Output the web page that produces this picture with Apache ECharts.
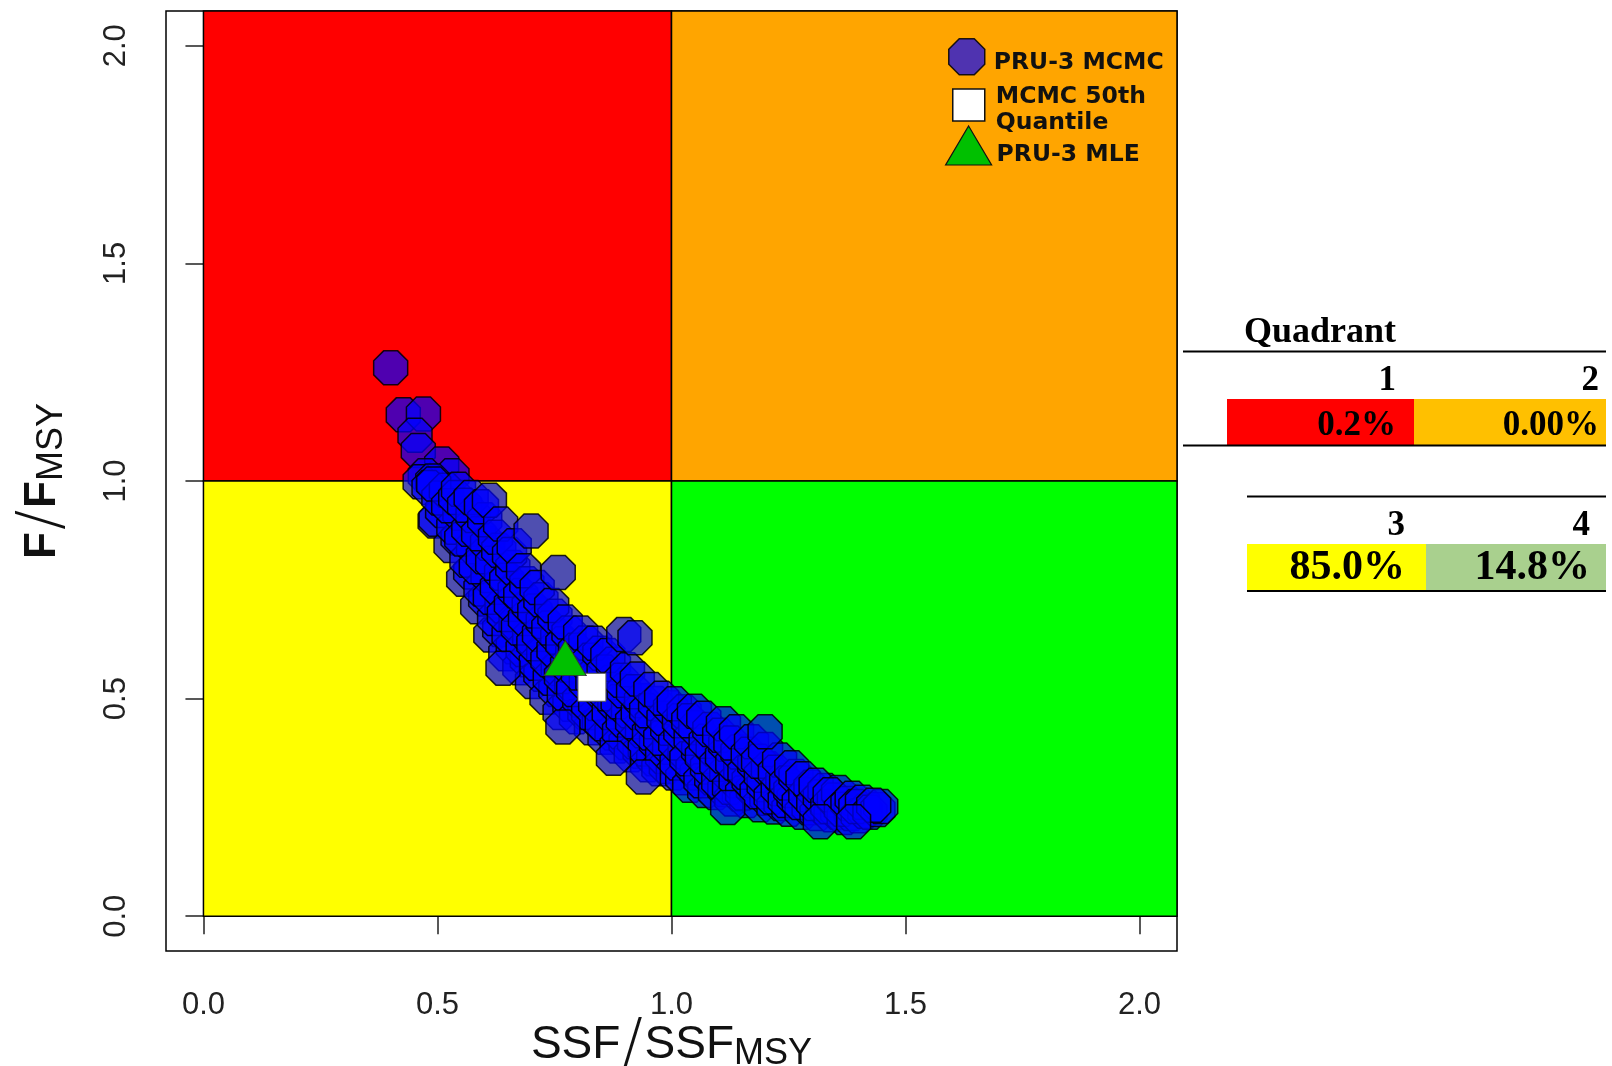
<!DOCTYPE html>
<html>
<head>
<meta charset="utf-8">
<title>PRU-3 Kobe plot</title>
<script src="https://cdn.jsdelivr.net/npm/echarts@6/dist/echarts.min.js"></script>
<style>
  html, body { margin: 0; padding: 0; background: #ffffff; }
  #chart { width: 1612px; height: 1066px; }
</style>
</head>
<body>
<div id="chart"></div>
<script>
// ---- axis setup -------------------------------------------------------
const tickValues = [0, 0.5, 1, 1.5, 2];
const axisMin = -0.08;            // range padded 4% beyond 0..2
const axisMax = 2.08;

// ---- stock status quadrants (SSF/SSFmsy vs F/Fmsy) --------------------
const quadrantNames  = ['1', '2', '3', '4'];
const quadrantColors = ['#FF0000', '#FFA500', '#FFFF00', '#00FF00'];
const quadrantX      = [[0, 1], [1, 2.08], [0, 1], [1, 2.08]];
const quadrantY      = [[1, 2.08], [1, 2.08], [0, 1], [0, 1]];

// ---- share of MCMC draws in each quadrant -----------------------------
const quadrantShares = ['0.2%', '0.00%', '85.0%', '14.8%'];
const shareColors    = ['#FF0000', '#FFC000', '#FFFF00', '#A9D08E'];

// ---- point estimates ---------------------------------------------------
const medianPoint = [0.83, 0.526];   // MCMC 50th quantile
const mlePoint    = [0.773, 0.593];  // maximum likelihood estimate

// ---- MCMC draws [SSF/SSFmsy, F/Fmsy] ----------------------------------
const mcmcDraws = [
  [0.400,1.260],[0.427,1.152],[0.470,1.154],[0.452,1.105],[0.459,1.070],[0.509,1.039],
  [0.531,1.012],[0.474,1.012],[0.463,0.998],[0.490,1.000],[0.482,0.985],[0.495,0.908],
  [0.497,0.912],[0.511,0.932],[0.503,0.961],[0.519,0.979],[0.492,0.993],
  [0.529,0.852],[0.544,0.869],[0.535,0.894],[0.548,0.926],[0.524,0.943],[0.539,0.962],[0.545,0.981],
  [0.556,0.774],[0.571,0.791],[0.563,0.818],[0.577,0.849],[0.552,0.867],[0.567,0.889],[0.576,0.921],[0.558,0.944],[0.572,0.962],
  [0.586,0.711],[0.603,0.729],[0.593,0.752],[0.608,0.783],[0.583,0.803],[0.598,0.826],[0.607,0.857],[0.588,0.879],[0.601,0.911],[0.594,0.941],[0.611,0.956],
  [0.614,0.646],[0.633,0.659],[0.622,0.684],[0.638,0.713],[0.613,0.733],[0.628,0.756],[0.637,0.788],[0.618,0.811],[0.631,0.841],[0.624,0.871],[0.635,0.901],
  [0.646,0.603],[0.662,0.619],[0.653,0.646],[0.668,0.674],[0.643,0.693],[0.658,0.717],[0.666,0.748],[0.648,0.772],[0.661,0.801],[0.654,0.831],[0.664,0.851],
  [0.676,0.571],[0.692,0.589],[0.683,0.613],[0.697,0.641],[0.673,0.662],[0.688,0.684],[0.696,0.713],[0.678,0.737],[0.691,0.764],[0.684,0.794],
  [0.703,0.539],[0.721,0.556],[0.711,0.581],[0.727,0.604],[0.706,0.626],[0.718,0.648],[0.726,0.677],[0.708,0.701],[0.721,0.727],[0.713,0.755],
  [0.734,0.503],[0.753,0.521],[0.741,0.547],[0.758,0.569],[0.736,0.589],[0.749,0.612],[0.757,0.641],[0.738,0.662],[0.751,0.689],[0.744,0.714],
  [0.762,0.468],[0.783,0.487],[0.771,0.511],[0.787,0.534],[0.765,0.551],[0.778,0.577],[0.789,0.603],[0.768,0.626],[0.781,0.651],[0.773,0.676],
  [0.797,0.458],[0.815,0.469],[0.804,0.497],[0.791,0.521],[0.818,0.536],[0.801,0.559],[0.811,0.588],[0.795,0.611],[0.817,0.628],[0.806,0.651],
  [0.829,0.433],[0.846,0.447],[0.823,0.468],[0.838,0.489],[0.849,0.516],[0.832,0.539],[0.842,0.563],[0.826,0.588],[0.847,0.604],[0.836,0.627],
  [0.858,0.411],[0.873,0.421],[0.852,0.442],[0.867,0.468],[0.879,0.489],[0.861,0.511],[0.871,0.537],[0.856,0.561],[0.876,0.579],[0.864,0.599],
  [0.884,0.391],[0.903,0.399],[0.889,0.424],[0.897,0.451],[0.908,0.472],[0.886,0.493],[0.899,0.518],[0.892,0.542],[0.906,0.566],
  [0.914,0.371],[0.933,0.379],[0.921,0.401],[0.938,0.426],[0.917,0.447],[0.929,0.468],[0.936,0.495],[0.919,0.516],[0.927,0.545],
  [0.949,0.348],[0.962,0.362],[0.944,0.384],[0.968,0.398],[0.953,0.421],[0.959,0.447],[0.947,0.472],[0.966,0.489],[0.956,0.521],
  [0.973,0.339],[0.989,0.344],[0.981,0.367],[0.996,0.388],[0.977,0.409],[0.992,0.432],[0.984,0.455],[0.998,0.479],[0.979,0.501],
  [1.004,0.329],[1.024,0.318],[1.012,0.352],[1.029,0.377],[1.009,0.398],[1.020,0.424],[1.017,0.449],[1.027,0.470],[1.006,0.488],
  [1.039,0.301],[1.055,0.329],[1.046,0.341],[1.033,0.362],[1.058,0.381],[1.042,0.409],[1.052,0.433],[1.037,0.449],[1.049,0.471],
  [1.071,0.289],[1.063,0.311],[1.086,0.318],[1.077,0.343],[1.066,0.367],[1.089,0.384],[1.074,0.402],[1.082,0.429],[1.069,0.455],
  [1.094,0.284],[1.114,0.291],[1.101,0.309],[1.118,0.332],[1.097,0.349],[1.109,0.368],[1.116,0.395],[1.103,0.416],[1.111,0.442],
  [1.129,0.269],[1.145,0.281],[1.124,0.296],[1.138,0.311],[1.148,0.336],[1.131,0.352],[1.142,0.377],[1.127,0.398],[1.139,0.424],
  [1.161,0.266],[1.152,0.283],[1.175,0.291],[1.166,0.312],[1.157,0.331],[1.178,0.349],[1.164,0.372],[1.171,0.401],
  [1.189,0.256],[1.204,0.271],[1.183,0.286],[1.198,0.302],[1.192,0.324],[1.207,0.339],[1.186,0.356],[1.201,0.383],
  [1.219,0.251],[1.234,0.259],[1.213,0.274],[1.228,0.293],[1.238,0.312],[1.222,0.331],[1.231,0.359],
  [1.251,0.246],[1.243,0.266],[1.262,0.271],[1.255,0.289],[1.246,0.306],[1.266,0.321],[1.257,0.341],
  [1.279,0.239],[1.294,0.249],[1.273,0.261],[1.287,0.279],[1.298,0.296],[1.281,0.316],
  [1.311,0.236],[1.324,0.251],[1.304,0.259],[1.318,0.274],[1.328,0.289],[1.309,0.301],
  [1.341,0.233],[1.355,0.239],[1.334,0.252],[1.348,0.267],[1.357,0.284],[1.339,0.279],
  [1.369,0.227],[1.384,0.236],[1.363,0.246],[1.377,0.259],[1.386,0.271],
  [1.399,0.231],[1.413,0.241],[1.394,0.252],[1.408,0.262],
  [1.424,0.239],[1.441,0.245],[1.447,0.252],[1.432,0.255],
  [0.700,0.885],[0.758,0.790],[0.898,0.647],[0.922,0.640],[1.200,0.424],[0.876,0.363],
  [0.940,0.320],[1.120,0.250],[1.318,0.217],[1.389,0.217],[0.640,0.570],[0.768,0.435]
];

// ---- styling ----------------------------------------------------------
const octagon = 'path://M29.3,0L70.7,0L100,29.3L100,70.7L70.7,100L29.3,100L0,70.7L0,29.3Z';
const drawFill = 'rgba(0,0,255,0.69)';
const drawEdge = 'rgba(0,0,0,0.85)';
const mleGreen = '#00C000';

const chart = echarts.init(document.getElementById('chart'), null, { renderer: 'canvas' });

const quadrantAreas = quadrantNames.map((name, i) => [
  { name: name, xAxis: quadrantX[i][0], yAxis: quadrantY[i][0],
    itemStyle: { color: quadrantColors[i], opacity: 1, borderColor: '#000', borderWidth: 1.5 } },
  { xAxis: quadrantX[i][1], yAxis: quadrantY[i][1] }
]);

// ---- quadrant summary table (right-hand side) -------------------------
const serif = 'bold 35px "Liberation Serif", "Times New Roman", serif';
const serifHead = 'bold 36px "Liberation Serif", "Times New Roman", serif';
const serifBig = 'bold 42px "Liberation Serif", "Times New Roman", serif';
const tableRules = [
  [1183, 1606, 351.5], [1183, 1606, 445.5], [1247, 1606, 496.5], [1247, 1606, 591]
];
const cellBoxes = [   // x0, x1, y0, y1 of the coloured share cells
  [1227, 1414, 399, 445], [1414, 1606, 399, 445],
  [1247, 1426, 544, 590], [1426, 1606, 544, 590]
];
const cellRight = [1396, 1599, 1405, 1590];
const headY = [381, 381, 526, 526];
const shareY = [426, 426, 568.5, 568.5];
const shareFont = [serif, serif, serifBig, serifBig];

const tableGraphics = [];
cellBoxes.forEach((b, i) => {
  tableGraphics.push({
    type: 'rect', silent: true,
    shape: { x: b[0], y: b[2], width: b[1] - b[0], height: b[3] - b[2] },
    style: { fill: shareColors[i] }
  });
});
tableRules.forEach(r => {
  tableGraphics.push({
    type: 'line', silent: true,
    shape: { x1: r[0], y1: r[2], x2: r[1], y2: r[2] },
    style: { stroke: '#000', lineWidth: 2 }
  });
});
tableGraphics.push({
  type: 'text', silent: true,
  style: { text: 'Quadrant', x: 1244, y: 333, font: serifHead, fill: '#000',
           textAlign: 'left', textVerticalAlign: 'middle' }
});
quadrantNames.forEach((q, i) => {
  tableGraphics.push({
    type: 'text', silent: true,
    style: { text: q, x: cellRight[i], y: headY[i], font: serif, fill: '#000',
             textAlign: 'right', textVerticalAlign: 'middle' }
  });
  tableGraphics.push({
    type: 'text', silent: true,
    style: { text: quadrantShares[i], x: cellRight[i], y: shareY[i], font: shareFont[i], fill: '#000',
             textAlign: 'right', textVerticalAlign: 'middle' }
  });
});

// ---- legend (one block per entry so each row can be placed) -----------
const legendFont = {
  fontFamily: '"DejaVu Sans", "Liberation Sans", sans-serif',
  fontWeight: 'bold', fontSize: 23.5, color: '#111', lineHeight: 26, verticalAlign: 'middle'
};
// every line gets the same top padding, which nudges the text below the icon centre
function legendBlock(name, icon, w, h, left, top, padTop, style, label) {
  const text = label.split('\n').map(ln => '{t|' + ln + '}').join('\n');
  return {
    show: true, orient: 'vertical', left: left, top: top, padding: 0,
    itemWidth: w, itemHeight: h, selectedMode: false,
    formatter: () => text,
    textStyle: {
      rich: { t: Object.assign({}, legendFont, { padding: [padTop, 0, 0, 0] }) }
    },
    data: [{ name: name, icon: icon, itemStyle: style }]
  };
}

const axisFont = '"Liberation Sans", Arial, sans-serif';
const titleRich = {
  m:   { fontFamily: axisFont, fontSize: 46, color: '#111', lineHeight: 46, verticalAlign: 'middle' },
  mb:  { fontFamily: axisFont, fontSize: 44, fontWeight: 'bold', color: '#111', lineHeight: 46, verticalAlign: 'middle' },
  s:   { fontFamily: '"DejaVu Sans", sans-serif', fontWeight: 200, fontSize: 60, color: '#111', lineHeight: 46,
         verticalAlign: 'middle', padding: [0, 2, 0, 2] },
  b:   { fontFamily: axisFont, fontSize: 36, color: '#111', lineHeight: 36, verticalAlign: 'middle',
         padding: [18, 0, 0, 0] }
};

const option = {
  animation: false,
  backgroundColor: '#ffffff',
  grid: {
    left: 166, right: 435, top: 11, bottom: 115,
    show: true, backgroundColor: '#ffffff', borderColor: '#000', borderWidth: 1.5,
    containLabel: false, outerBoundsMode: 'none'
  },
  xAxis: {
    type: 'value', min: axisMin, max: axisMax,
    axisLine: { show: false },
    splitLine: { show: false },
    axisTick: { show: true, customValues: tickValues, length: 18, lineStyle: { color: '#222', width: 1.5 } },
    axisLabel: { show: true, customValues: tickValues, margin: 39, fontFamily: axisFont, fontSize: 31, color: '#222',
                 formatter: v => v.toFixed(1) },
    name: '{m|SSF}{s|/}{m|SSF}{b|MSY}',
    nameLocation: 'middle', nameGap: 71, nameMoveOverlap: false,
    nameTextStyle: { rich: titleRich }
  },
  yAxis: {
    type: 'value', min: axisMin, max: axisMax,
    axisLine: { show: false },
    splitLine: { show: false },
    axisTick: { show: true, customValues: tickValues, length: 18, lineStyle: { color: '#222', width: 1.5 } },
    axisLabel: { show: true, customValues: tickValues, margin: 34, rotate: 90, fontFamily: axisFont, fontSize: 31,
                 color: '#222', formatter: v => v.toFixed(1) },
    name: '{mb|F}{s|/}{mb|F}{b|MSY}',
    nameLocation: 'middle', nameGap: 100, nameMoveOverlap: false,
    nameTextStyle: { rich: titleRich }
  },
  legend: [
    legendBlock('PRU-3 MCMC',
      'path://M0,0M44,36M14.5,0L29.5,0L40,10.5L40,25.5L29.5,36L14.5,36L4,25.5L4,10.5Z',
      44, 36, 944, 38, 13, { color: drawFill, borderColor: drawEdge, borderWidth: 1.5 }, 'PRU-3 MCMC'),
    legendBlock('MCMC 50th Quantile',
      'path://M0,0M44,32M6,0L38,0L38,32L6,32Z',
      44, 32, 946, 75, 10, { color: '#ffffff', borderColor: '#111', borderWidth: 1.5 }, 'MCMC 50th\nQuantile'),
    legendBlock('PRU-3 MLE', 'triangle',
      46, 39, 945, 124, 19, { color: mleGreen, borderColor: '#111', borderWidth: 1.2 }, 'PRU-3 MLE')
  ],
  series: [
    {
      name: 'Quadrants', type: 'scatter', data: [], z: 1, silent: true,
      markArea: { silent: true, label: { show: false }, data: quadrantAreas }
    },
    {
      name: 'PRU-3 MCMC', type: 'scatter', z: 3, data: mcmcDraws,
      symbol: octagon, symbolSize: 34,
      itemStyle: { color: drawFill, borderColor: drawEdge, borderWidth: 1.5, opacity: 1 },
      emphasis: { disabled: true }, large: false, progressive: 0
    },
    {
      name: 'MCMC 50th Quantile', type: 'scatter', z: 4, data: [medianPoint],
      symbol: 'rect', symbolSize: 28,
      itemStyle: { color: '#ffffff', borderColor: '#555', borderWidth: 1, opacity: 1 },
      emphasis: { disabled: true }
    },
    {
      name: 'PRU-3 MLE', type: 'scatter', z: 5, data: [mlePoint],
      symbol: 'triangle', symbolSize: [42, 35],
      itemStyle: { color: mleGreen, borderColor: '#333', borderWidth: 1, opacity: 1 },
      emphasis: { disabled: true }
    }
  ],
  graphic: { elements: tableGraphics }
};

chart.setOption(option);
</script>
</body>
</html>
